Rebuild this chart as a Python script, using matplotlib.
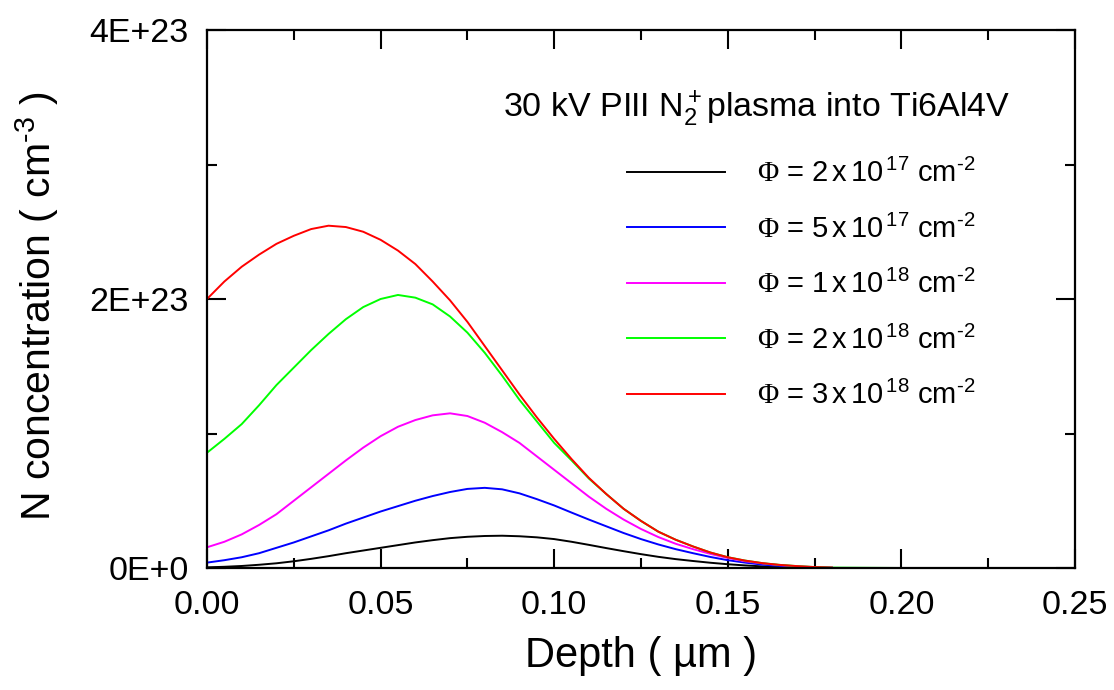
import numpy as np
import matplotlib
matplotlib.use("Agg")
import matplotlib.pyplot as plt
from matplotlib.ticker import MultipleLocator, FixedLocator

plt.rcParams['font.family'] = ['Liberation Sans', 'DejaVu Sans']
plt.rcParams['mathtext.fontset'] = 'custom'
plt.rcParams['mathtext.rm'] = 'Liberation Sans'
plt.rcParams['mathtext.it'] = 'Liberation Sans:italic'
plt.rcParams['mathtext.bf'] = 'Liberation Sans:bold'
plt.rcParams['mathtext.sf'] = 'Liberation Serif'

# ---- data (depth in um, concentration in 1e23 cm^-3) ----
depth = [0.000, 0.005, 0.010, 0.015, 0.020, 0.025, 0.030, 0.035, 0.040, 0.045,
         0.050, 0.055, 0.060, 0.065, 0.070, 0.075, 0.080, 0.085, 0.090, 0.095,
         0.100, 0.105, 0.110, 0.115, 0.120, 0.125, 0.130, 0.135, 0.140, 0.145,
         0.150, 0.155, 0.160, 0.165, 0.170, 0.175, 0.180]

conc_black = [0.005, 0.009, 0.015, 0.024, 0.035, 0.050, 0.068, 0.088, 0.110, 0.130,
              0.150, 0.170, 0.190, 0.207, 0.222, 0.232, 0.238, 0.240, 0.236, 0.228,
              0.215, 0.195, 0.172, 0.148, 0.125, 0.103, 0.083, 0.066, 0.052, 0.039,
              0.028, 0.019, 0.012, 0.007, 0.004, 0.002, 0.001]

conc_blue = [0.040, 0.058, 0.080, 0.110, 0.150, 0.190, 0.235, 0.280, 0.330, 0.375,
             0.420, 0.460, 0.500, 0.535, 0.565, 0.588, 0.596, 0.585, 0.555, 0.512,
             0.465, 0.412, 0.360, 0.310, 0.260, 0.215, 0.175, 0.140, 0.110, 0.082,
             0.058, 0.040, 0.025, 0.015, 0.008, 0.003, 0.001]

conc_magenta = [0.154, 0.195, 0.250, 0.320, 0.400, 0.500, 0.600, 0.700, 0.800, 0.895,
                0.980, 1.050, 1.100, 1.135, 1.150, 1.130, 1.080, 1.010, 0.930, 0.830,
                0.730, 0.630, 0.530, 0.440, 0.360, 0.290, 0.230, 0.180, 0.140, 0.105,
                0.074, 0.050, 0.034, 0.021, 0.012, 0.006, 0.003]

depth_green = [0.000, 0.005, 0.010, 0.015, 0.020, 0.025, 0.030, 0.035, 0.040, 0.045,
               0.050, 0.055, 0.060, 0.065, 0.070, 0.075, 0.080, 0.085, 0.090, 0.095,
               0.100, 0.105, 0.110, 0.115, 0.120, 0.125, 0.130, 0.135, 0.140, 0.145,
               0.150, 0.155, 0.160, 0.165, 0.170, 0.175, 0.180, 0.200, 0.220, 0.245]
conc_green = [0.857, 0.960, 1.070, 1.210, 1.360, 1.490, 1.620, 1.740, 1.850, 1.940,
              2.000, 2.030, 2.010, 1.960, 1.870, 1.750, 1.600, 1.430, 1.250, 1.090,
              0.930, 0.800, 0.665, 0.550, 0.440, 0.350, 0.270, 0.210, 0.160, 0.115,
              0.080, 0.055, 0.036, 0.023, 0.014, 0.007, 0.003, 0.000, 0.000, 0.000]

conc_red = [2.000, 2.130, 2.240, 2.330, 2.410, 2.470, 2.520, 2.545, 2.535, 2.500,
            2.440, 2.360, 2.260, 2.130, 1.990, 1.830, 1.650, 1.470, 1.290, 1.120,
            0.960, 0.810, 0.670, 0.550, 0.440, 0.350, 0.270, 0.210, 0.160, 0.115,
            0.080, 0.055, 0.036, 0.023, 0.014, 0.007, 0.003]

series_labels = [r'$\mathsf{\Phi}$ = 2$\,$x$\,$10$^{\,17}$ cm$^{\text{-}2}$',
                 r'$\mathsf{\Phi}$ = 5$\,$x$\,$10$^{\,17}$ cm$^{\text{-}2}$',
                 r'$\mathsf{\Phi}$ = 1$\,$x$\,$10$^{\,18}$ cm$^{\text{-}2}$',
                 r'$\mathsf{\Phi}$ = 2$\,$x$\,$10$^{\,18}$ cm$^{\text{-}2}$',
                 r'$\mathsf{\Phi}$ = 3$\,$x$\,$10$^{\,18}$ cm$^{\text{-}2}$']
series_colors = ['#000000', '#0000ff', '#ff00ff', '#00ff00', '#ff0000']

x_ticks = [0.00, 0.05, 0.10, 0.15, 0.20, 0.25]
x_tick_labels = ['0.00', '0.05', '0.10', '0.15', '0.20', '0.25']
y_ticks = [0.0, 2e23, 4e23]
y_tick_labels = ['0E+0', '2E+23', '4E+23']

title_text = r'30 kV PIII N$_2^+$plasma into Ti6Al4V'
x_label = 'Depth ( µm )'
y_label = r'N concentration ( cm$^{\text{-}3}$ )'

# ---- figure ----
fig = plt.figure(figsize=(11.14, 6.90), dpi=100)
ax = fig.add_axes([207/1114, 1 - 568/690, (1075-207)/1114, (568-30)/690])

all_depths = [depth, depth, depth, depth_green, depth]
all_concs = [conc_black, conc_blue, conc_magenta, conc_green, conc_red]
for d, c, col, lab in zip(all_depths, all_concs, series_colors, series_labels):
    ax.plot(d, np.array(c) * 1e23, color=col, lw=1.4, label=lab)

ax.set_xlim(0, 0.25)
ax.set_ylim(0, 4e23)
ax.xaxis.set_major_locator(FixedLocator(x_ticks))
ax.set_xticklabels(x_tick_labels)
ax.xaxis.set_minor_locator(MultipleLocator(0.025))
ax.yaxis.set_major_locator(FixedLocator(y_ticks))
ax.set_yticklabels(y_tick_labels)
ax.yaxis.set_minor_locator(MultipleLocator(1e23))

ax.tick_params(which='both', direction='in', top=True, right=True, width=1.5,
               labelsize=24.5, colors='black')
ax.tick_params(which='major', length=14)
ax.tick_params(which='minor', length=7)
ax.tick_params(axis='x', which='major', pad=16)
ax.tick_params(axis='y', which='major', pad=13)
for sp in ax.spines.values():
    sp.set_linewidth(1.6)

ax.set_xlabel(x_label, fontsize=30, labelpad=11)
ax.set_ylabel(y_label, fontsize=29.5)
ax.yaxis.set_label_coords(-0.168, 0.487)

ax.text((503-207)/868, (568-117)/538, title_text, transform=ax.transAxes,
        fontsize=24.5, ha='left', va='baseline')

leg = ax.legend(loc='upper left', bbox_to_anchor=((627-207)/868, (568-159)/538),
                frameon=False, fontsize=21, handlelength=3.35, handletextpad=1.1,
                labelspacing=0.9, borderpad=0, borderaxespad=0)

fig.savefig('out.png', dpi=100)
